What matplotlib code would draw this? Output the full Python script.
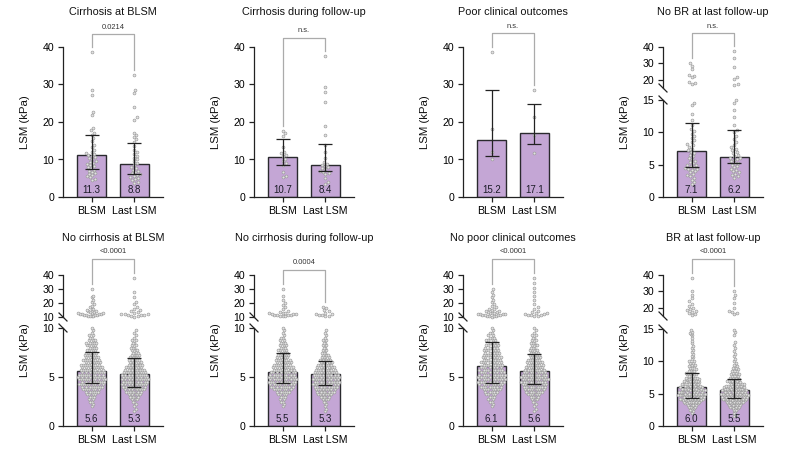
import numpy as np
import matplotlib
matplotlib.use("Agg")
import matplotlib.pyplot as plt
from matplotlib.lines import Line2D
from matplotlib.transforms import blended_transform_factory

plt.rcParams["font.family"] = ["Liberation Sans", "DejaVu Sans"]

W, H = 787, 451

# ---------------------------------------------------------------- data
groups = ["BLSM", "Last LSM"]
titles = [
    "Cirrhosis at BLSM", "Cirrhosis during follow-up", "Poor clinical outcomes",
    "No BR at last follow-up", "No cirrhosis at BLSM", "No cirrhosis during follow-up",
    "No poor clinical outcomes", "BR at last follow-up",
]
p_labels = ["0.0214", "n.s.", "n.s.", "n.s.", "<0.0001", "0.0004", "<0.0001", "<0.0001"]
bar_means = [[11.3, 8.8], [10.7, 8.4], [15.2, 17.1], [7.1, 6.2],
             [5.6, 5.3], [5.5, 5.3], [6.1, 5.6], [6.0, 5.5]]
err_low = [[7.5, 6.1], [8.6, 6.8], [10.9, 14.0], [4.6, 5.2],
           [4.4, 4.0], [4.4, 4.2], [4.4, 4.3], [4.3, 4.3]]
err_high = [[16.5, 14.5], [15.4, 14.1], [28.4, 24.7], [11.4, 10.4],
            [7.6, 6.9], [7.4, 6.6], [8.6, 7.3], [8.2, 7.2]]

# individual LSM values (kPa), smaller cohorts
cirr_bl_blsm = [38.7, 28.4, 27.3, 22.6, 21.8, 18.5, 17.8, 17.2, 16.5, 15.6, 14.8, 13.9,
                13.2, 12.6, 12.0, 11.8, 11.5, 11.2, 11.0, 10.6, 10.3, 10.0, 9.7, 9.4,
                9.1, 8.8, 8.5, 8.2, 7.9, 7.6, 7.3, 7.0, 6.7, 6.4, 6.1, 5.8, 5.5, 5.2, 4.8, 4.4]
cirr_bl_last = [32.5, 28.5, 27.6, 24.0, 21.2, 20.5, 17.0, 16.5, 16.0, 15.4, 14.6, 13.6,
                12.6, 12.0, 11.5, 11.0, 10.5, 10.0, 9.5, 9.0, 8.5, 8.0, 7.6, 7.2, 6.9,
                6.6, 6.3, 6.0, 5.8, 5.5, 5.2, 5.0, 4.7, 4.4, 4.1, 3.8]
cirr_fu_blsm = [17.6, 17.0, 16.4, 13.2, 12.0, 11.6, 11.2, 10.8, 10.2, 9.6, 9.0, 8.6,
                6.6, 5.6, 5.3]
cirr_fu_last = [37.5, 29.2, 28.0, 25.2, 19.0, 16.5, 13.8, 12.0, 10.4, 9.2, 8.9, 8.6,
                8.3, 8.0, 7.7, 7.4, 7.0, 6.7, 6.4, 6.0, 5.0, 4.0, 3.5]
poor_blsm = [38.6, 18.2, 12.0, 10.1]
poor_last = [28.5, 21.3, 16.6, 11.7]
nobr_blsm = [30.0, 28.5, 26.5, 23.0, 22.5, 21.5, 18.5, 18.0, 17.5, 14.5, 14.2, 12.9,
             11.9, 11.2, 10.5, 10.2, 9.8, 9.5, 9.2, 8.8, 8.5, 8.2, 8.0, 7.8, 7.5, 7.2,
             7.0, 6.8, 6.5, 6.3, 6.0, 5.8, 5.6, 5.4, 5.2, 5.0, 4.9, 4.8, 4.6, 4.5, 4.4,
             4.3, 4.2, 4.0, 3.8, 3.6, 3.4, 3.2, 3.0, 2.7, 2.3, 2.0]
nobr_last = [37.4, 33.0, 28.0, 21.6, 20.5, 17.6, 17.0, 15.0, 14.5, 13.4, 12.4, 11.2,
             10.4, 10.0, 9.5, 9.0, 8.5, 8.0, 7.8, 7.5, 7.3, 7.0, 6.8, 6.5, 6.3, 6.1,
             6.0, 5.9, 5.7, 5.5, 5.3, 5.2, 5.0, 4.8, 4.6, 4.4, 4.2, 4.0, 3.8, 3.6, 3.4,
             3.2, 3.0]

# large cohorts: how many values fall on each 0.25 kPa step, plus the sparse high values
dense_bins = [1.5, 1.75, 2.0, 2.25, 2.5, 2.75, 3.0, 3.25, 3.5, 3.75, 4.0, 4.25, 4.5,
              4.75, 5.0, 5.25, 5.5, 5.75, 6.0, 6.25, 6.5, 6.75, 7.0, 7.25, 7.5, 7.75,
              8.0, 8.25, 8.5, 8.75, 9.0, 9.25, 9.5, 9.75, 10.0]
nocirr_bl_blsm_n = [0, 0, 1, 1, 2, 2, 3, 4, 6, 7, 9, 10, 10, 11, 11, 10, 10, 9, 9, 8, 7,
                    7, 6, 5, 5, 4, 4, 4, 5, 3, 2, 2, 1, 1, 1]
nocirr_bl_last_n = [1, 1, 1, 1, 2, 3, 5, 6, 8, 9, 11, 11, 12, 12, 12, 11, 10, 9, 8, 7, 6,
                    5, 5, 4, 3, 3, 3, 2, 2, 2, 1, 1, 1, 1, 0]
nocirr_fu_blsm_n = [0, 0, 1, 1, 2, 2, 3, 4, 6, 8, 9, 10, 11, 11, 11, 10, 10, 9, 8, 7, 7,
                    6, 5, 5, 4, 4, 3, 3, 3, 2, 2, 1, 1, 1, 1]
nocirr_fu_last_n = [1, 1, 1, 1, 2, 3, 5, 7, 8, 9, 11, 12, 12, 12, 12, 11, 10, 9, 8, 7, 6,
                    5, 4, 3, 3, 2, 2, 2, 2, 2, 1, 1, 1, 1, 0]
nopoor_blsm_n = [0, 0, 1, 1, 2, 2, 3, 4, 5, 7, 8, 9, 10, 10, 10, 10, 9, 9, 8, 8, 8, 7,
                 7, 6, 6, 6, 5, 5, 4, 4, 3, 2, 2, 1, 1]
nopoor_last_n = [1, 1, 1, 1, 2, 3, 4, 6, 8, 9, 10, 11, 11, 12, 11, 11, 10, 9, 8, 7, 7,
                 6, 5, 5, 4, 4, 3, 3, 3, 2, 2, 2, 1, 1, 1]
br_blsm_n = [0, 0, 1, 1, 2, 2, 3, 4, 5, 6, 7, 8, 8, 9, 9, 8, 8, 7, 7, 6, 6, 5, 5, 4, 4,
             3, 3, 3, 3, 2, 2, 2, 2, 2, 2]
br_last_n = [1, 1, 1, 1, 2, 3, 4, 5, 6, 7, 8, 9, 9, 10, 9, 9, 8, 7, 7, 6, 5, 5, 4, 4, 3,
             3, 3, 2, 2, 2, 2, 1, 1, 1, 1]

nocirr_bl_blsm_hi = [10.5, 10.8, 11.0, 11.0, 11.2, 11.4, 11.5, 11.7, 11.9, 12.0, 12.2,
                     12.4, 12.6, 12.8, 13.0, 13.3, 13.6, 14.0, 14.5, 15.0, 15.5, 16.0,
                     17.0, 18.0, 19.0, 21.0, 22.5, 24.0, 25.0, 30.0]
nocirr_bl_last_hi = [10.3, 10.6, 10.9, 11.1, 11.3, 11.6, 11.9, 12.2, 12.5, 12.9, 13.3,
                     14.0, 15.0, 16.0, 17.5, 19.0, 21.0, 24.0, 28.0, 38.0]
nocirr_fu_blsm_hi = [10.4, 10.7, 10.9, 11.1, 11.3, 11.5, 11.7, 11.9, 12.1, 12.3, 12.6,
                     12.9, 13.2, 13.6, 14.2, 15.5, 17.0, 18.5, 20.0, 22.0, 25.0, 30.0]
nocirr_fu_last_hi = [10.5, 11.0, 11.3, 11.6, 12.0, 12.5, 13.0, 14.0, 15.0, 16.5, 17.5]
nopoor_blsm_hi = [10.3, 10.5, 10.7, 10.9, 11.0, 11.2, 11.4, 11.5, 11.7, 11.9, 12.0, 12.2,
                  12.4, 12.6, 12.8, 13.0, 13.3, 13.6, 14.0, 14.5, 15.0, 15.5, 16.0, 17.0,
                  18.0, 19.0, 20.5, 22.0, 24.0, 26.0, 28.0, 30.0]
nopoor_last_hi = [10.4, 10.8, 11.1, 11.4, 11.7, 12.0, 12.3, 12.7, 13.1, 13.6, 14.5, 16.0,
                  17.0, 19.0, 22.0, 25.0, 28.0, 31.0, 34.0, 38.0]
br_blsm_hi = [10.3, 10.6, 10.9, 11.2, 11.5, 11.8, 12.1, 12.4, 12.8, 13.2, 13.6, 14.0,
              14.2, 14.4, 14.6, 14.8, 15.5, 16.0, 17.0, 17.5, 18.0, 18.5, 19.0, 20.0,
              21.0, 22.5, 24.0, 26.0, 28.0, 30.0, 38.0]
br_last_hi = [10.4, 10.8, 11.2, 11.6, 12.0, 12.5, 13.0, 14.0, 14.5, 14.8, 16.0, 17.0,
              17.5, 18.0, 20.0, 23.0, 26.0, 28.0, 30.0]


def expand(counts, extra):
    return np.concatenate([np.repeat(dense_bins, counts), extra])


points = [
    [cirr_bl_blsm, cirr_bl_last],
    [cirr_fu_blsm, cirr_fu_last],
    [poor_blsm, poor_last],
    [nobr_blsm, nobr_last],
    [expand(nocirr_bl_blsm_n, nocirr_bl_blsm_hi), expand(nocirr_bl_last_n, nocirr_bl_last_hi)],
    [expand(nocirr_fu_blsm_n, nocirr_fu_blsm_hi), expand(nocirr_fu_last_n, nocirr_fu_last_hi)],
    [expand(nopoor_blsm_n, nopoor_blsm_hi), expand(nopoor_last_n, nopoor_last_hi)],
    [expand(br_blsm_n, br_blsm_hi), expand(br_last_n, br_last_hi)],
]

# ---------------------------------------------------------------- layout (pixels)
spine_x = [63, 254, 463, 663, 63, 254, 463, 663]
row_y0 = [197, 426]          # y of value 0
row_ytop = [47, 275]         # y of value 40
title_y = [12, 238]
bracket_y = [34, 38, 33, 33, 259, 270, 259, 259]
# broken axes: (break value, lower segment top px, upper segment bottom px)
breaks = [None, None, None, (15, 100, 88),
          (10, 328, 317), (10, 328, 317), (10, 328, 317), (15, 329, 316)]

BAR_FILL = "#c4a6d5"
BAR_EDGE = "#2a2a2e"
AXIS = "#222222"
DOT_FACE = "#e2e2e2"
DOT_EDGE = "#999999"
BRACKET = "#ababab"
DOT_PX = 3.4
MAX_HALF = 13.5


def swarm_offsets(ypx, dia):
    xs = np.zeros(len(ypx))
    placed = []
    for i in np.argsort(ypx):
        y = ypx[i]
        near = [(px, py) for px, py in placed if abs(py - y) < dia]
        cands = [0.0]
        for px, py in near:
            dx = np.sqrt(dia ** 2 - (py - y) ** 2)
            cands += [px + dx, px - dx]
        cands.sort(key=abs)
        for c in cands:
            if all((c - px) ** 2 + (y - py) ** 2 >= dia ** 2 - 1e-6 for px, py in near):
                xs[i] = c
                break
        placed.append((xs[i], y))
    return xs


def draw_points(ax, xc, vals):
    vals = np.asarray(vals, dtype=float)
    if len(vals) == 0:
        return
    ypx = ax.transData.transform(np.column_stack([np.full(len(vals), xc), vals]))[:, 1]
    offs = swarm_offsets(ypx, DOT_PX)
    m = np.abs(offs).max()
    if m > MAX_HALF:
        offs *= MAX_HALF / m
    px_per_x = ax.transData.transform((1, 0))[0] - ax.transData.transform((0, 0))[0]
    ax.scatter(xc + offs / px_per_x, vals, s=4.2, facecolor=DOT_FACE, edgecolor=DOT_EDGE,
               linewidth=0.45, zorder=3, clip_on=False)


def make_axes(fig, x, ybot, ytop, ylim, yticks, show_bottom):
    ax = fig.add_axes([x / W, (H - ybot) / H, 100 / W, (ybot - ytop) / H])
    ax.set_xlim(-0.663, 1.663)
    ax.set_ylim(*ylim)
    ax.set_yticks(yticks)
    ax.patch.set_alpha(0)
    for s in ("top", "right"):
        ax.spines[s].set_visible(False)
    for s in ("left", "bottom"):
        ax.spines[s].set_linewidth(0.9)
        ax.spines[s].set_color(AXIS)
    ax.tick_params(axis="both", length=3.5, width=0.9, color=AXIS, labelsize=7.6, pad=3)
    if show_bottom:
        ax.set_xticks([0, 1])
        ax.set_xticklabels(groups)
    else:
        ax.spines["bottom"].set_visible(False)
        ax.tick_params(axis="x", bottom=False, labelbottom=False)
    return ax


fig = plt.figure(figsize=(W / 100, H / 100), dpi=100)

for k in range(8):
    row = k // 4
    x = spine_x[k]
    y0, ytop = row_y0[row], row_ytop[row]
    brk = breaks[k]
    if brk is None:
        ax_lo = make_axes(fig, x, y0, ytop, (0, 40), [0, 10, 20, 30, 40], True)
        ax_hi = None
        L = 40
    else:
        L, lo_top, hi_bot = brk
        lo_ticks = [0, 5, 10] if L == 10 else [0, 5, 10, 15]
        hi_ticks = [10, 20, 30, 40] if L == 10 else [20, 30, 40]
        ax_lo = make_axes(fig, x, y0, lo_top, (0, L), lo_ticks, True)
        ax_hi = make_axes(fig, x, hi_bot, ytop, (L, 40), hi_ticks, False)
        for yb in (lo_top, hi_bot):
            fig.add_artist(Line2D([(x - 4) / W, (x + 4) / W],
                                  [1 - (yb - 4) / H, 1 - (yb + 4) / H],
                                  transform=fig.transFigure, color=AXIS, linewidth=0.9))

    means = np.array(bar_means[k])
    lo = np.array(err_low[k])
    hi = np.array(err_high[k])
    ax_lo.bar([0, 1], means, width=0.67, color=BAR_FILL, edgecolor=BAR_EDGE,
              linewidth=1.0, zorder=1)

    for g in range(2):
        vals = np.asarray(points[k][g], dtype=float)
        draw_points(ax_lo, g, vals[vals <= L])
        if ax_hi is not None:
            draw_points(ax_hi, g, vals[vals > L])
        ax_lo.annotate(f"{means[g]:.1f}", xy=(g, 0), xytext=(0, 5.2),
                       textcoords="offset points", ha="center", va="center",
                       fontsize=7, color="#1c1c28", zorder=6)

    ax_lo.errorbar([0, 1], means, yerr=[means - lo, hi - means], fmt="none",
                   ecolor=AXIS, elinewidth=0.9, capsize=5, capthick=0.9, zorder=5)

    # significance bracket
    ax_top = ax_hi if ax_hi is not None else ax_lo
    tr = blended_transform_factory(ax_top.transData, fig.transFigure)
    y_br = 1 - bracket_y[k] / H
    leg_ends = []
    for g in range(2):
        vmax = float(np.max(points[k][g]))
        src = ax_hi if (ax_hi is not None and vmax > L) else ax_lo
        yfig = src.transData.transform((g, vmax))[1] / H + 5 / H
        leg_ends.append(min(yfig, y_br))
    ax_top.plot([0, 0, 1, 1], [leg_ends[0], y_br, y_br, leg_ends[1]], transform=tr,
                color=BRACKET, linewidth=0.9, clip_on=False, zorder=2)
    ax_top.text(0.5, y_br + 7 / H, p_labels[k], transform=tr, ha="center", va="center",
                fontsize=5.4, color="#333333")

    fig.text((x + 50) / W, 1 - title_y[row] / H, titles[k], ha="center", va="center",
             fontsize=7.8, color="#111111")
    fig.text((x - 38) / W, 1 - ((y0 + ytop) / 2) / H, "LSM (kPa)", rotation=90,
             ha="center", va="center", fontsize=8.2, color="#111111")

fig.savefig("out.png", dpi=100)
